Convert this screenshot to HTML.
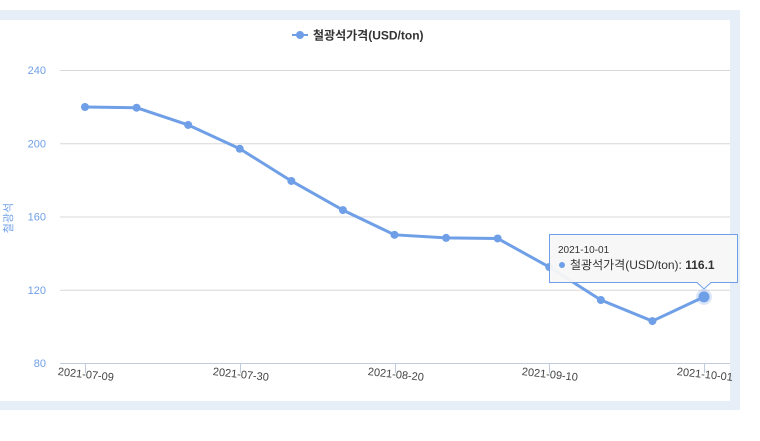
<!DOCTYPE html>
<html><head><meta charset="utf-8"><style>
body{margin:0;width:760px;height:441px;background:#fff;overflow:hidden;font-family:"Liberation Sans","Noto Sans CJK KR",sans-serif}
</style></head><body>
<svg width="760" height="441" style="position:absolute;left:0;top:0">
<rect x="0" y="10" width="740" height="400" fill="#e6eef8"/>
<rect x="0" y="20" width="730" height="381" fill="#fff"/>
<g id="grid"></g><g id="xaxis"></g><g id="series"></g>
<g>
<line x1="292" y1="35" x2="308" y2="35" stroke="#6f9fe6" stroke-width="2"/>
<circle cx="300" cy="35" r="4" fill="#6f9fe6"/>
<text x="313" y="39.5" font-size="12" font-weight="bold" fill="#333">철광석가격(USD/ton)</text>
</g>
<text transform="translate(12,218) rotate(-90)" text-anchor="middle" font-size="11" fill="#6f9fe6">철광석</text>
<g>
<path d="M549.5 234.5 H737.5 V282.5 H711 L704 289 L697 282.5 H549.5 Z" fill="#f7f7f7" fill-opacity="0.95" stroke="#6f9fe6"/>
<text x="558" y="253" font-size="10" fill="#333">2021-10-01</text>
<circle cx="562" cy="265" r="3" fill="#6f9fe6"/>
<text x="570" y="269" font-size="12" fill="#333">철광석가격(USD/ton): <tspan font-weight="bold">116.1</tspan></text>
</g>
</svg>
<script>
const dates=["2021-07-09","2021-07-16","2021-07-23","2021-07-30","2021-08-06","2021-08-13","2021-08-20","2021-08-27","2021-09-03","2021-09-10","2021-09-17","2021-09-24","2021-10-01"];
const values=[219.8,219.4,210,197,179.4,163.5,150,148.3,148,132.4,114.4,102.9,116.1];
const yTicks=[80,120,160,200,240];
const xLabels=["2021-07-09","2021-07-30","2021-08-20","2021-09-10","2021-10-01"];
const NS="http://www.w3.org/2000/svg";
const x0=85,x1=704,yb=363,yt=70;
const xs=i=>x0+(x1-x0)*i/(dates.length-1);
const ys=v=>yb-(v-80)/(240-80)*(yb-yt);
function mk(t,a,p){const e=document.createElementNS(NS,t);for(const k in a)e.setAttribute(k,a[k]);p.appendChild(e);return e;}
const g=document.getElementById('grid');
yTicks.forEach(v=>{
 const l=mk('line',{x1:60,x2:730,y1:ys(v)+.5,y2:ys(v)+.5,stroke:v===80?'#c0ccdc':'#d8d8d8'},g);
 
 
 const t=mk('text',{x:46,y:ys(v)+4,'text-anchor':'end','font-size':11,fill:'#6f9fe6'},g);
 t.textContent=v;
 
 
});
const xa=document.getElementById('xaxis');
xLabels.forEach(d=>{
 const i=dates.indexOf(d),x=Math.round(xs(i))+.5;
 const l=mk('line',{x1:x,x2:x,y1:yb,y2:yb+10,stroke:'#c0ccdc'},xa);
 
 
 const t=mk('text',{x:x,y:yb+15,'text-anchor':'middle','font-size':11,fill:'#444',transform:`rotate(6 ${x} ${yb+15})`},xa);
 t.textContent=d;
 
 
});
const s=document.getElementById('series');
const pl=mk('polyline',{points:values.map((v,i)=>xs(i)+','+ys(v)).join(' '),fill:'none',stroke:'#6f9fe6','stroke-width':3,'stroke-linejoin':'round'},s);


values.forEach((v,i)=>{
 const last=i===values.length-1;
 if(last){const h=mk('circle',{cx:xs(i),cy:ys(v),r:8,fill:'#6f9fe6','fill-opacity':.25},s);}
 const c=mk('circle',{cx:xs(i),cy:ys(v),r:last?5.5:4,fill:'#6f9fe6'},s);
 
 
});
</script>
</body></html>
